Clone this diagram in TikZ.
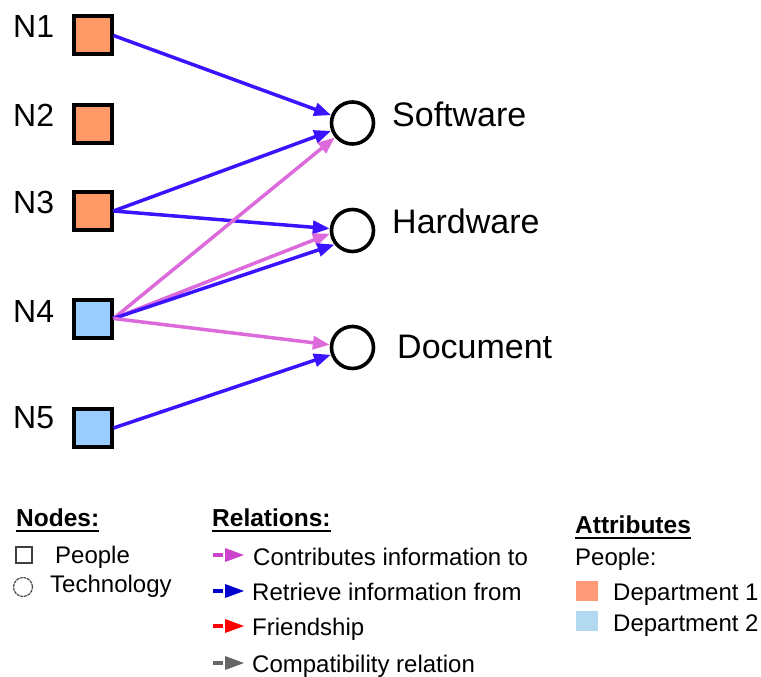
\documentclass[tikz,border=0pt]{standalone}
\usepackage{fontspec}
\setmainfont{Liberation Sans}
\usetikzlibrary{arrows.meta}
\definecolor{retrieve}{HTML}{3A14FF}
\definecolor{contrib}{HTML}{DD6ADB}
\definecolor{deptone}{HTML}{FF9966}
\definecolor{depttwo}{HTML}{99CCFF}
\definecolor{legone}{HTML}{FF9977}
\definecolor{legtwo}{HTML}{B3D9F0}
\definecolor{legpink}{HTML}{CC44CC}
\definecolor{legblue}{HTML}{0000CC}
\definecolor{legred}{HTML}{FF0000}
\definecolor{leggray}{HTML}{666666}
\begin{document}
\begin{tikzpicture}[x=1pt,y=-1pt,
  person/.style={rectangle, draw=black, line width=4pt, minimum size=38pt, inner sep=0pt},
  tech/.style={circle, draw=black, line width=3.6pt, minimum size=42pt, inner sep=0pt, fill=white},
  idlabel/.style={font=\fontsize{32}{38}\selectfont, inner sep=0pt, anchor=base west},
  techlabel/.style={font=\fontsize{34}{40}\selectfont, inner sep=0pt, anchor=base west},
  leg/.style={font=\fontsize{24}{28}\selectfont, inner sep=0pt, anchor=base west},
  leghead/.style={font=\fontsize{24.5}{28}\selectfont\bfseries, inner sep=0pt, anchor=base west},
  rel/.style={line width=3.5pt, -{Triangle[length=17pt,width=13pt]}},
  pics/legarrow/.style={code={
    \draw[line width=4pt, #1] (0,0) -- (10,0);
    \fill[#1] (12,-7) -- (31,0) -- (12,7) -- cycle;
  }},
]
\useasboundingbox (0,0) rectangle (761,677);

% people
\node[person, fill=deptone] (n1) at (92.5,35.5) {};
\node[person, fill=deptone] (n2) at (92.5,124) {};
\node[person, fill=deptone] (n3) at (92.5,211) {};
\node[person, fill=depttwo] (n4) at (92.5,318.5) {};
\node[person, fill=depttwo] (n5) at (92.5,428) {};
\node[idlabel] (l1) at (13,38) {N1};
\node[idlabel] (l2) at (13,127) {N2};
\node[idlabel] (l3) at (13,213) {N3};
\node[idlabel] (l4) at (13,322) {N4};
\node[idlabel] (l5) at (13,428) {N5};

% technologies
\node[tech] (sw) at (352.5,123) {};
\node[tech] (hw) at (352.5,230.5) {};
\node[tech] (doc) at (352.5,347.5) {};
\node[techlabel] (swl) at (392,126) {Software};
\node[techlabel] (hwl) at (392,233) {Hardware};
\node[techlabel] (docl) at (397,358) {Document};

% relations
\draw[rel, retrieve] (n1.east) -- (sw);
\draw[rel, retrieve] (n3.east) -- (sw);
\draw[rel, retrieve] (n3.east) -- (hw);
\draw[rel, contrib] (n4.east) -- (sw);
\draw[rel, contrib] (n4.east) -- (hw.188);
\draw[rel, retrieve] (n4.east) -- (hw.218);
\draw[rel, contrib] (n4.east) -- (doc);
\draw[rel, retrieve] (n5.east) -- (doc);

% legend: nodes
\node[leghead] (hnodes) at (16,526) {Nodes:};
\draw[line width=1.8pt] ([yshift=-5pt]hnodes.base west) -- ([yshift=-5pt]hnodes.base east);
\node[rectangle, draw=black!75, line width=1.3pt, minimum size=16pt, inner sep=0pt] (lsq) at (24,555) {};
\node[leg] (lpeople) at (55,563) {People};
\node[circle, draw=black!70, line width=1.2pt, dash pattern=on 3pt off 0.8pt, minimum size=19pt, inner sep=0pt] (lci) at (23,587) {};
\node[leg] (ltech) at (50,592) {Technology};

% legend: relations
\node[leghead] (hrel) at (212,526) {Relations:};
\draw[line width=1.8pt] ([yshift=-5pt]hrel.base west) -- ([yshift=-5pt]hrel.base east);
\pic at (213,555) {legarrow=legpink};
\node[leg] (lcontrib) at (253,565) {Contributes information to};
\pic at (213,591) {legarrow=legblue};
\node[leg] (lretrieve) at (252,600) {Retrieve information from};
\pic at (213,626) {legarrow=legred};
\node[leg] (lfriend) at (252,635) {Friendship};
\pic at (213,663) {legarrow=leggray};
\node[leg] (lcompat) at (252,672) {Compatibility relation};

% legend: attributes
\node[leghead] (hattr) at (575,533) {Attributes};
\draw[line width=1.8pt] ([yshift=-5pt]hattr.base west) -- ([yshift=-5pt]hattr.base east);
\node[leg] (lpeop) at (575,565) {People:};
\fill[legone] (576,581) rectangle (598,601);
\node[leg] (ld1) at (613,600) {Department 1};
\fill[legtwo] (576,611) rectangle (598,631);
\node[leg] (ld2) at (613,631) {Department 2};
\end{tikzpicture}
\end{document}
